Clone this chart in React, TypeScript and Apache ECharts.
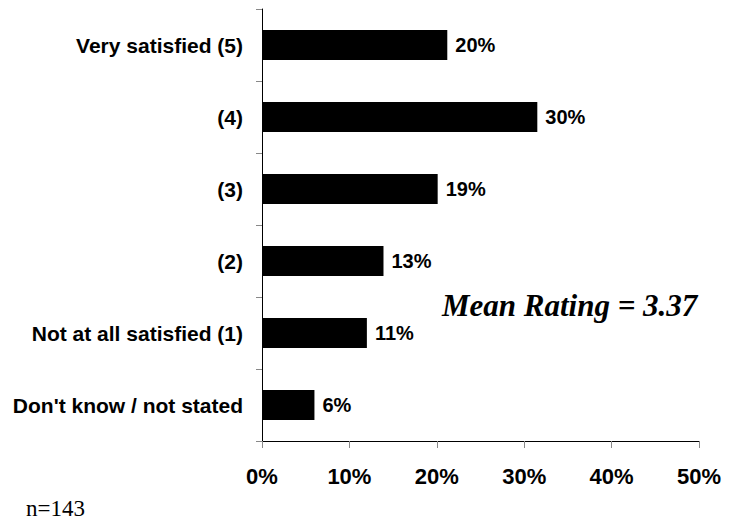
import React, { useEffect, useRef } from "react";
import * as echarts from "echarts";

const categories = [
  "Very satisfied (5)",
  "(4)",
  "(3)",
  "(2)",
  "Not at all satisfied (1)",
  "Don't know / not stated",
];
const barValues = [21.2, 31.5, 20.1, 13.9, 12.0, 6.0];
const valueLabels = ["20%", "30%", "19%", "13%", "11%", "6%"];
const xTicks = [0, 10, 20, 30, 40, 50];
const meanText = "Mean Rating = 3.37";
const sampleText = "n=143";

export default function App() {
  const ref = useRef<HTMLDivElement>(null);
  useEffect(() => {
    if (!ref.current) return;
    const chart = echarts.init(ref.current, null, { renderer: "svg" });
    const sans = "'Liberation Sans', Arial, sans-serif";
    const serif = "'Liberation Serif', 'Times New Roman', serif";
    chart.setOption({
      animation: false,
      backgroundColor: "#ffffff",
      grid: { left: 262, right: 44, top: 9, bottom: 80, containLabel: false },
      xAxis: {
        type: "value",
        min: xTicks[0],
        max: xTicks[xTicks.length - 1],
        interval: 10,
        axisLine: { show: true, lineStyle: { color: "#000", width: 1 } },
        axisTick: { show: true, length: 7, lineStyle: { color: "#888" } },
        splitLine: { show: false },
        axisLabel: {
          formatter: "{value}%",
          color: "#000",
          fontFamily: sans,
          fontWeight: "bold",
          fontSize: 22,
          margin: 24,
        },
      },
      yAxis: {
        type: "category",
        data: categories,
        inverse: true,
        axisLine: { show: true, lineStyle: { color: "#000", width: 1 } },
        axisTick: { show: true, length: 6, lineStyle: { color: "#888" } },
        axisLabel: {
          color: "#000",
          fontFamily: sans,
          fontWeight: "bold",
          fontSize: 21,
          margin: 19,
        },
      },
      series: [
        {
          type: "bar",
          data: barValues,
          barWidth: 30,
          itemStyle: { color: "#000" },
          label: {
            show: true,
            position: "right",
            distance: 8,
            color: "#000",
            fontFamily: sans,
            fontWeight: "bold",
            fontSize: 20,
            formatter: (p: any) => valueLabels[p.dataIndex],
          },
        },
      ],
      graphic: [
        {
          type: "text",
          left: 442,
          top: 290,
          style: {
            text: meanText,
            fill: "#000",
            font: `italic bold 31px ${serif}`,
          },
        },
        {
          type: "text",
          left: 26,
          top: 497,
          style: {
            text: sampleText,
            fill: "#000",
            font: `23px ${serif}`,
          },
        },
      ],
    });
    return () => chart.dispose();
  }, []);
  return (
    <div
      ref={ref}
      style={{ position: "fixed", left: 0, top: 0, width: 743, height: 521 }}
    />
  );
}
